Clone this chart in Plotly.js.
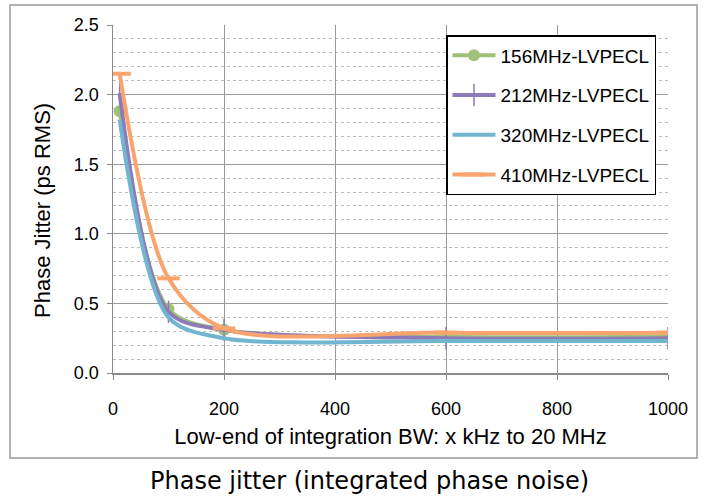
<!DOCTYPE html>
<html>
<head>
<meta charset="utf-8">
<script src="https://cdn.plot.ly/plotly-3.0.1.min.js"></script>
<style>html,body{margin:0;padding:0;background:#fff;}#chart{width:711px;height:500px;}</style>
</head>
<body>
<div id="chart"></div>
<script>
// Low-end of integration bandwidth (kHz)
const lowEndKHz = [12, 100, 200, 600, 1000];
// Phase jitter (ps RMS)
const jitter156 = [1.88, 0.46, 0.31, 0.26, 0.26];
const jitter212 = [2.01, 0.44, 0.31, 0.25, 0.25];
const jitter320 = [1.82, 0.40, 0.25, 0.23, 0.23];
const jitter410 = [2.15, 0.68, 0.32, 0.29, 0.29];
const seriesNames = ['156MHz-LVPECL', '212MHz-LVPECL', '320MHz-LVPECL', '410MHz-LVPECL'];
const yTickVals = [0, 0.5, 1.0, 1.5, 2.0, 2.5];
const xTickVals = [0, 200, 400, 600, 800, 1000];

const L = {l: 113, r: 43, t: 25, b: 127};
const W = 711, H = 500;
const pw = W - L.l - L.r, ph = H - L.t - L.b;
const px = v => (v - L.l) / pw;
const py = v => (H - L.b - v) / ph;

function tr(name, y, color, marker, group) {
  const t = {
    x: lowEndKHz, y: y, name: name, type: 'scatter', mode: marker ? 'lines+markers' : 'lines',
    line: {color: color, width: 4, shape: 'spline', smoothing: 0.85},
    legendgroup: group
  };
  if (marker) t.marker = marker;
  return t;
}

const data = [
  tr(seriesNames[0], jitter156, '#A0C178', {symbol: 'circle', size: 12, color: '#A0C178'}, 'a'),
  tr(seriesNames[1], jitter212, '#8D7AB8', {symbol: 'line-ns', size: 16, color: '#8D7AB8', line: {width: 1.5, color: '#8D7AB8'}}, 'b'),
  tr(seriesNames[2], jitter320, '#72B5CF', null, 'c'),
  tr(seriesNames[3], jitter410, '#F8A46E', {symbol: 'line-ew', size: 16, color: '#F8A46E', line: {width: 4, color: '#F8A46E'}}, 'd')
];

const layout = {
  width: W, height: H,
  margin: L,
  paper_bgcolor: '#fff', plot_bgcolor: '#fff',
  showlegend: true,
  legend: {
    x: px(446), y: py(35), xanchor: 'left', yanchor: 'top',
    bgcolor: '#fff', bordercolor: '#000', borderwidth: 1.5,
    font: {family: 'Liberation Sans, Arial, sans-serif', size: 19, color: '#000'},
    tracegroupgap: 12, itemwidth: 43
  },
  xaxis: {
    range: [0, 1000], tickvals: xTickVals, ticktext: xTickVals.map(String),
    showgrid: true, gridcolor: '#9a9a9a', gridwidth: 1,
    showline: true, linecolor: '#8a8a8a', linewidth: 1.5,
    ticks: 'outside', ticklen: 5, tickcolor: '#8a8a8a',
    ticklabelstandoff: 14,
    zeroline: false,
    tickfont: {family: 'Liberation Sans, Arial, sans-serif', size: 18, color: '#000'},
    title: {text: 'Low-end of integration BW: x kHz to 20 MHz', standoff: 10,
            font: {family: 'Liberation Sans, Arial, sans-serif', size: 22, color: '#000'}}
  },
  yaxis: {
    range: [0, 2.5], tickvals: yTickVals, ticktext: yTickVals.map(v => v.toFixed(1)),
    showgrid: true, gridcolor: '#9a9a9a', gridwidth: 1,
    showline: true, linecolor: '#8a8a8a', linewidth: 1.5,
    ticks: 'outside', ticklen: 5, tickcolor: '#8a8a8a',
    ticklabelstandoff: 4,
    zeroline: false,
    minor: {dtick: 0.1, showgrid: true, gridcolor: '#bdbdbd', griddash: 'dot', gridwidth: 1, ticks: ''},
    tickfont: {family: 'Liberation Sans, Arial, sans-serif', size: 18, color: '#000'}
  },
  shapes: [
    {type: 'rect', xref: 'paper', yref: 'paper', x0: px(10), x1: px(697), y0: py(458), y1: py(5),
     line: {color: '#9a9a9a', width: 1.5}, fillcolor: 'rgba(0,0,0,0)', layer: 'below'}
  ],
  annotations: [
    {text: 'Phase Jitter (ps RMS)', xref: 'paper', yref: 'paper', textangle: -90,
     x: px(42), y: py(211), xanchor: 'center', yanchor: 'middle', showarrow: false,
     font: {family: 'Liberation Sans, Arial, sans-serif', size: 22, color: '#000'}},
    {text: 'Phase jitter (integrated phase noise)', xref: 'paper', yref: 'paper',
     x: px(369), y: py(481), xanchor: 'center', yanchor: 'middle', showarrow: false,
     font: {family: 'DejaVu Sans, Verdana, sans-serif', size: 24, color: '#000'}}
  ]
};

Plotly.newPlot('chart', data, layout, {displayModeBar: false, staticPlot: true});
</script>
</body>
</html>
